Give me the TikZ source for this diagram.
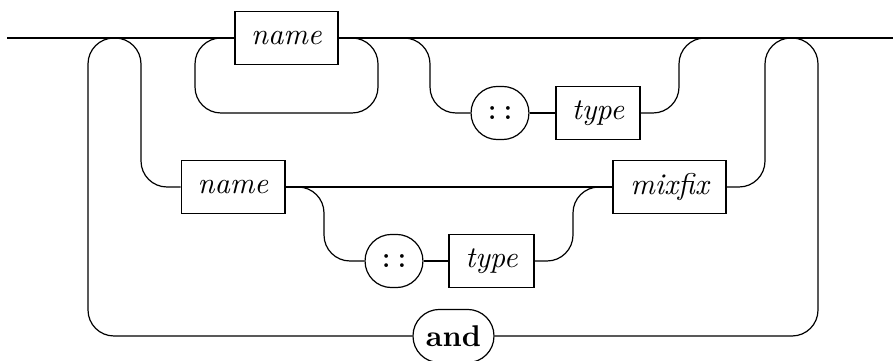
\documentclass[tikz,border=0pt]{standalone}
\begin{document}
\begin{tikzpicture}[x=0.33333pt,y=-0.33333pt,
  rail/.style={line width=0.4pt, rounded corners=8.67pt},
  ntbox/.style={draw, line width=0.4pt, inner xsep=5.3pt, inner ysep=0pt, minimum height=17.8pt, font=\itshape},
  tmbox/.style={draw, line width=0.4pt, rounded corners=8.8pt, minimum height=17.7pt, inner xsep=3pt, inner ysep=0pt}]
\useasboundingbox (0,0) rectangle (893,361);
\node[ntbox, minimum width=34.3pt] (n1) at (286.5,38) {name};
\node[ntbox, minimum width=34.6pt] (n2) at (233,187) {name};
\node[ntbox, minimum width=37.7pt] (mx) at (669.5,187) {mixfix};
\node[tmbox, minimum width=19.3pt] (c1) at (500,113) {\texttt{::}};
\node[ntbox, minimum width=28pt] (t1) at (598,113) {type};
\node[tmbox, minimum width=19.3pt] (c2) at (394,261) {\texttt{::}};
\node[ntbox, minimum width=28.3pt] (t2) at (491.5,261) {type};
\node[tmbox, minimum width=27pt, font=\bfseries] (and) at (453.5,336) {and};
\coordinate (in) at (7,38);
\coordinate (out) at (893,38);
\coordinate (jl) at (141,38);
\coordinate (jr) at (765,38);
% main line
\draw[rail] (in) -- (n1.west);
\draw[rail] (n1.east) -- (out);
% repeated name
\draw[rail] (n1.east) -- (378,38) -- (378,113) -- (195,113) -- (195,38) -- (n1.west);
% optional :: type
\draw[rail] (n1.east) -- (430,38) -- (430,113) -- (c1.west);
\draw[rail] (c1.east) -- (t1.west);
\draw[rail] (t1.east) -- (679,113) -- (679,38) -- (out);
% second alternative
\draw[rail] (in) -- (141,38) -- (141,187) -- (n2.west);
\draw[rail] (n2.east) -- (mx.west);
\draw[rail] (n2.east) -- (324,187) -- (324,261) -- (c2.west);
\draw[rail] (c2.east) -- (t2.west);
\draw[rail] (t2.east) -- (573,261) -- (573,187) -- (mx.west);
\draw[rail] (mx.east) -- (765,187) -- (765,38) -- (out);
% loop back with "and"
\draw[rail] (jr) -- (818,38) -- (818,336) -- (and.east);
\draw[rail] (and.west) -- (88,336) -- (88,38) -- (jl);
\end{tikzpicture}
\end{document}
